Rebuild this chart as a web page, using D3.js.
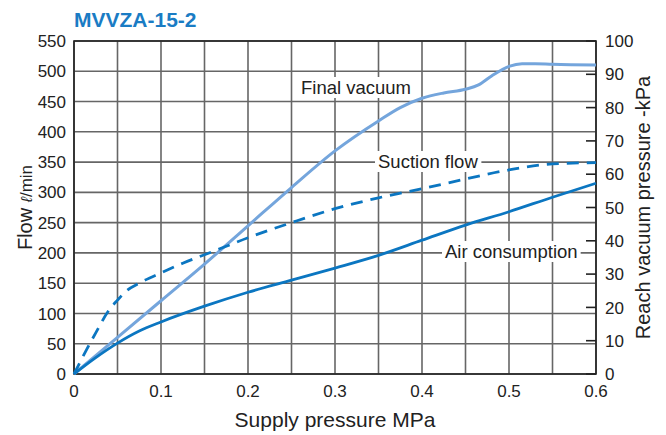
<!DOCTYPE html>
<html>
<head>
<meta charset="utf-8">
<script src="https://cdn.jsdelivr.net/npm/d3@7"></script>
<style>
  body { margin: 0; background: #fff; }
  text { font-family: "Liberation Sans", Arial, sans-serif; }
</style>
</head>
<body>
<script>
// supply pressure (MPa) vs flow (l/min) and vacuum (kPa)
var airX   = [0, 0.025, 0.05, 0.075, 0.1, 0.15, 0.2, 0.25, 0.3, 0.35, 0.4, 0.45, 0.5, 0.55, 0.6];
var airY   = [0, 27, 51, 71, 86, 112, 135, 155, 175, 196, 221, 246, 268, 292, 315];

var suctX  = [0, 0.01, 0.025, 0.04, 0.05, 0.06, 0.075, 0.1, 0.125, 0.15, 0.175, 0.2, 0.25, 0.3, 0.35, 0.4, 0.45, 0.5, 0.55, 0.6];
var suctY  = [0, 28, 68, 105, 122, 137, 150, 167, 183, 197, 211, 225, 250, 273, 291, 306, 322, 337, 347, 349];

var vacX   = [0, 0.05, 0.1, 0.15, 0.2, 0.25, 0.3, 0.35, 0.375, 0.4, 0.425, 0.45, 0.465, 0.48, 0.5, 0.515, 0.53, 0.55, 0.6];
var vacY   = [0, 11, 22, 33, 44.5, 56, 67, 76, 80, 82.8, 84.4, 85.5, 86.8, 89.5, 92.4, 93.2, 93.2, 93, 92.8];

var xTicks  = [0, 0.1, 0.2, 0.3, 0.4, 0.5, 0.6];
var xGrid   = d3.range(0, 0.6001, 0.05);
var yTicks  = d3.range(0, 551, 50);
var y2Ticks = d3.range(0, 101, 10);

var W = 666, H = 435;
var margin = {top: 41, right: 70, bottom: 61, left: 74};
var width = W - margin.left - margin.right;
var height = H - margin.top - margin.bottom;

var dark = "#0b76c1", light = "#74a5dc";

var svg = d3.select("body").append("svg")
    .attr("width", W)
    .attr("height", H);

var g = svg.append("g")
    .attr("transform", "translate(" + margin.left + "," + margin.top + ")");

var x = d3.scaleLinear().domain([0, 0.6]).range([0, width]);
var y = d3.scaleLinear().domain([0, 550]).range([height, 0]);
var y2 = d3.scaleLinear().domain([0, 100]).range([height, 0]);

// grid
g.append("g").selectAll("line").data(xGrid).enter().append("line")
    .attr("x1", function(d) { return x(d); })
    .attr("x2", function(d) { return x(d); })
    .attr("y1", 0).attr("y2", height)
    .attr("stroke", "#666").attr("stroke-width", 1.6);

g.append("g").selectAll("line").data(yTicks).enter().append("line")
    .attr("y1", function(d) { return y(d); })
    .attr("y2", function(d) { return y(d); })
    .attr("x1", 0).attr("x2", width)
    .attr("stroke", "#666").attr("stroke-width", 1.6);

// right axis inner ticks
g.append("g").selectAll("line").data(y2Ticks).enter().append("line")
    .attr("y1", function(d) { return y2(d); })
    .attr("y2", function(d) { return y2(d); })
    .attr("x1", width - 10).attr("x2", width)
    .attr("stroke", "#222").attr("stroke-width", 1.6);

// frame
g.append("rect")
    .attr("width", width).attr("height", height)
    .attr("fill", "none").attr("stroke", "#222").attr("stroke-width", 1.6);

// tick labels
g.append("g").selectAll("text").data(yTicks).enter().append("text")
    .attr("x", -8)
    .attr("y", function(d) { return y(d); })
    .attr("dy", "0.36em")
    .attr("text-anchor", "end")
    .attr("font-size", 17)
    .attr("fill", "#222")
    .text(function(d) { return d; });

g.append("g").selectAll("text").data(y2Ticks).enter().append("text")
    .attr("x", width + 9)
    .attr("y", function(d) { return y2(d); })
    .attr("dy", "0.36em")
    .attr("font-size", 17)
    .attr("fill", "#222")
    .text(function(d) { return d; });

g.append("g").selectAll("text").data(xTicks).enter().append("text")
    .attr("x", function(d) { return x(d); })
    .attr("y", height + 23)
    .attr("text-anchor", "middle")
    .attr("font-size", 17)
    .attr("fill", "#222")
    .text(function(d) { return d; });

// curve labels with white boxes
var labels = [
  {t: "Final vacuum", x: 301, y: 94},
  {t: "Suction flow", x: 378, y: 168},
  {t: "Air consumption", x: 445, y: 258}
];
var lg = svg.append("g");
labels.forEach(function(l) {
  var box = lg.append("rect").attr("fill", "#fff");
  var t = lg.append("text")
      .attr("x", l.x).attr("y", l.y)
      .attr("font-size", 18.5)
      .attr("fill", "#222")
      .text(l.t);
  var b = t.node().getBBox();
  box.attr("x", b.x - 3).attr("y", b.y)
      .attr("width", b.width + 6).attr("height", b.height);
});

// curves
var lineL = d3.line().curve(d3.curveMonotoneX)
    .x(function(d) { return x(d[0]); })
    .y(function(d) { return y(d[1]); });
var lineR = d3.line().curve(d3.curveMonotoneX)
    .x(function(d) { return x(d[0]); })
    .y(function(d) { return y2(d[1]); });

g.append("path")
    .datum(d3.zip(vacX, vacY))
    .attr("d", lineR)
    .attr("fill", "none").attr("stroke", light).attr("stroke-width", 3);

g.append("path")
    .datum(d3.zip(airX, airY))
    .attr("d", lineL)
    .attr("fill", "none").attr("stroke", dark).attr("stroke-width", 2.8);

g.append("path")
    .datum(d3.zip(suctX, suctY))
    .attr("d", lineL)
    .attr("fill", "none").attr("stroke", dark).attr("stroke-width", 2.8)
    .attr("stroke-dasharray", "12,8");

// titles
svg.append("text")
    .attr("x", 74).attr("y", 27)
    .attr("font-size", 21).attr("font-weight", "bold")
    .attr("fill", "#1a7cc4")
    .text("MVVZA-15-2");

svg.append("text")
    .attr("x", margin.left + width / 2).attr("y", 427)
    .attr("text-anchor", "middle")
    .attr("font-size", 21)
    .attr("fill", "#222")
    .text("Supply pressure MPa");

var yl = svg.append("text")
    .attr("transform", "translate(32," + (margin.top + height / 2) + ") rotate(-90)")
    .attr("text-anchor", "middle")
    .attr("fill", "#222");
yl.append("tspan").attr("font-size", 20).text("Flow ");
yl.append("tspan").attr("font-size", 16).attr("font-style", "italic").text("ℓ");
yl.append("tspan").attr("font-size", 17).text("/min");

svg.append("text")
    .attr("transform", "translate(650," + (margin.top + height / 2) + ") rotate(-90)")
    .attr("text-anchor", "middle")
    .attr("font-size", 20)
    .attr("fill", "#222")
    .text("Reach vacuum pressure -kPa");
</script>
</body>
</html>
